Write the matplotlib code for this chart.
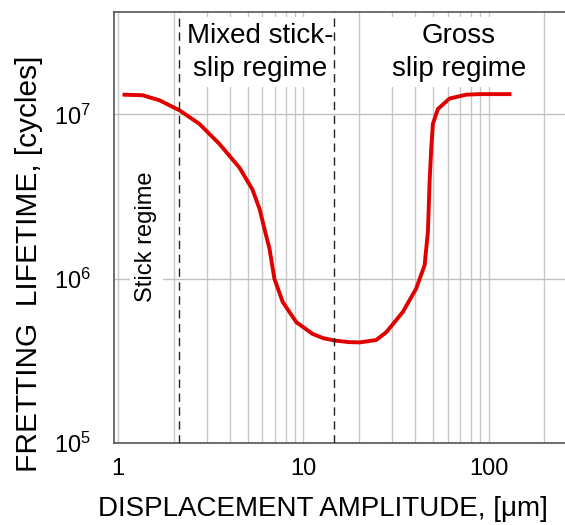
import numpy as np
import matplotlib.pyplot as plt

plt.rcParams['font.family'] = ['Liberation Sans', 'DejaVu Sans']

# curve (displacement in um, lifetime in cycles)
amplitude = [1.055, 1.35, 1.67, 2.14, 2.74, 3.52, 4.51, 5.3, 5.8, 6.2, 6.55, 6.97, 7.73,
             9.14, 11.2, 12.8, 14.7, 17.5, 20.1, 24.7, 28.0, 34.4, 40.6, 45.1, 47.0,
             48.0, 49.0, 50.0, 53.2, 61.5, 75.7, 89.4, 132.7]
lifetime = [1.32e7, 1.31e7, 1.22e7, 1.06e7, 8.77e6, 6.61e6, 4.75e6, 3.5e6, 2.65e6,
            1.95e6, 1.53e6, 1.0e6, 7.22e5, 5.45e5, 4.62e5, 4.35e5, 4.21e5, 4.12e5,
            4.10e5, 4.24e5, 4.73e5, 6.28e5, 8.72e5, 1.21e6, 1.94e6, 3.94e6, 6.3e6,
            8.77e6, 1.08e7, 1.25e7, 1.32e7, 1.33e7, 1.33e7]

regime_bounds = [2.12, 14.7]
x_ticks = [1, 10, 100]
x_tick_labels = ['1', '10', '100']
y_ticks = [1e5, 1e6, 1e7]
y_tick_labels = ['$\\mathregular{10^5}$', '$\\mathregular{10^6}$', '$\\mathregular{10^7}$']

fig = plt.figure(figsize=(5.65, 5.25), dpi=100)
ax = fig.add_axes([0.202, 0.156, 0.80, 0.821])

ax.set_xscale('log')
ax.set_yscale('log')
ax.set_xlim(0.95, 262)
ax.set_ylim(1e5, 4.2e7)

# vertical grid on every decade step, horizontal only on decades
ax.grid(True, which='both', axis='x', color='#c8c8c8', lw=1.0, zorder=0)
ax.grid(True, which='major', axis='y', color='#c0c0c0', lw=1.0, zorder=0)
ax.tick_params(which='both', length=0, labelsize=17)
ax.tick_params(axis='y', pad=17)
ax.tick_params(axis='x', pad=11)
ax.set_yticks(y_ticks)
ax.set_yticklabels(y_tick_labels)
ax.set_xticks(x_ticks)
ax.set_xticklabels(x_tick_labels)
ax.minorticks_on()
ax.yaxis.set_minor_locator(plt.NullLocator())

ax.spines['right'].set_visible(False)
for side in ['left', 'top', 'bottom']:
    ax.spines[side].set_color('#555555')
    ax.spines[side].set_linewidth(1.2)

ax.plot(amplitude, lifetime, color='#e00000', lw=2.8, zorder=4,
        solid_capstyle='butt', solid_joinstyle='round')

for b in regime_bounds:
    ax.axvline(b, color='#222222', lw=1.0, ls=(0, (6, 4)), zorder=5)

box = dict(facecolor='white', edgecolor='none', pad=4)
ax.text(5.85, 2.4e7, 'Mixed stick-\nslip regime', ha='center', va='center',
        fontsize=20, linespacing=1.35, bbox=box, zorder=3)
ax.text(69, 2.4e7, 'Gross\nslip regime', ha='center', va='center',
        fontsize=20, linespacing=1.35, bbox=box, zorder=3)
ax.text(1.42, 1.8e6, 'Stick regime', ha='center', va='center', rotation=90,
        fontsize=17, bbox=box, zorder=3)

ax.set_xlabel('DISPLACEMENT AMPLITUDE, [μm]', fontsize=20)
ax.xaxis.set_label_coords(0.462, -0.122)
ax.set_ylabel('FRETTING  LIFETIME, [cycles]', fontsize=21.5)
ax.yaxis.set_label_coords(-0.158, 0.415)

fig.savefig('out.png', dpi=100)
